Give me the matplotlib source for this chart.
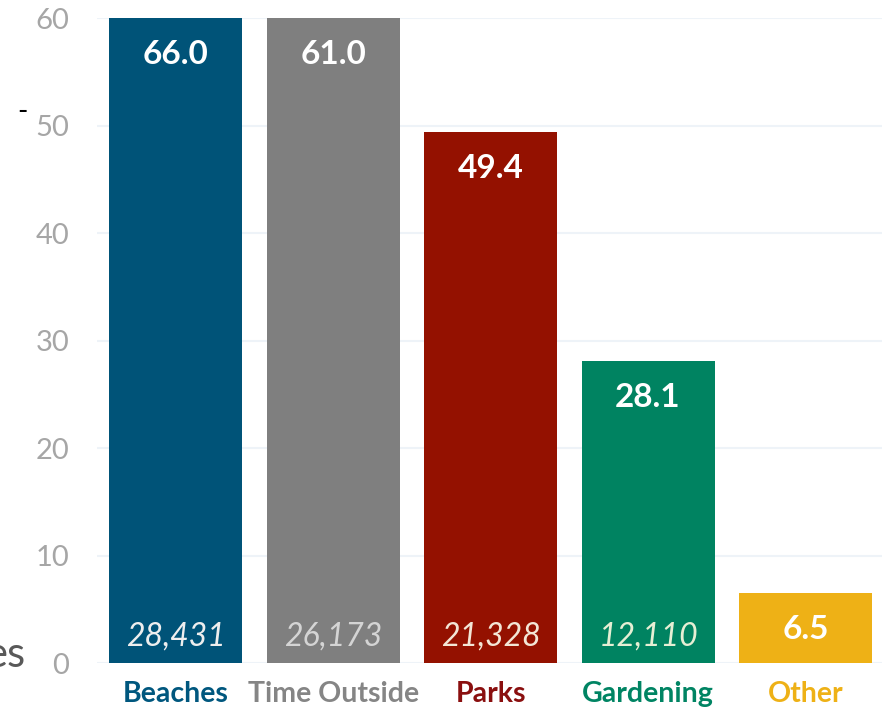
import matplotlib
matplotlib.use('Agg')
import matplotlib.pyplot as plt

# data
categories = ['Beaches', 'Time Outside', 'Parks', 'Gardening', 'Other']
values = [66.0, 61.0, 49.4, 28.1, 6.5]
counts = ['28,431', '26,173', '21,328', '12,110', '']
bar_colors = ['#005378', '#7f7f7f', '#941100', '#008361', '#EEB116']
label_colors = ['#00577e', '#858585', '#8a0f0f', '#008463', '#EEB116']
count_colors = ['#eeeeee', '#d4d4d4', '#f3e6d6', '#e6efd4', '#ffffff']
yticks = [0, 10, 20, 30, 40, 50, 60]

plt.rcParams['font.family'] = ['Lato', 'DejaVu Sans']

fig = plt.figure(figsize=(8.82, 7.11), dpi=100)
ax = fig.add_axes([0.110, 0.0675, 0.890, 0.907])

x = list(range(len(categories)))
ax.bar(x, values, width=0.845, color=bar_colors, zorder=2)

ax.set_ylim(0, 60)
ax.set_xlim(-0.5, 4.486)
ax.set_yticks(yticks)
ax.set_yticklabels([str(t) for t in yticks], fontsize=21, color='#a6a6a6')
ax.set_xticks(x)
ax.set_xticklabels(categories, fontsize=20.5, fontweight='bold')
for lbl, c in zip(ax.get_xticklabels(), label_colors):
    lbl.set_color(c)
ax.tick_params(axis='y', length=0, pad=20)
ax.tick_params(axis='x', length=0, pad=13)
ax.grid(axis='y', color='#eef3f8', lw=1.5, zorder=0)
for s in ax.spines.values():
    s.set_visible(False)

ymax = ax.get_ylim()[1]
for i, (v, n) in enumerate(zip(values, counts)):
    top = min(v, ymax)
    ax.annotate(f'{v:.1f}', (i, top), xytext=(0, -26), textcoords='offset points',
                ha='center', va='center', fontsize=24, fontweight='bold', color='white')
    if n:
        ax.annotate(n, (i, 0), xytext=(0, 19), textcoords='offset points',
                    ha='center', va='center', fontsize=23, fontstyle='italic',
                    color=count_colors[i])

# leftovers of a cut-off axis title
fig.text(0.029, 0.079, 'es', ha='right', va='center', fontsize=30, color='#595959')
fig.text(0.025, 0.843, '-', ha='center', va='center', fontsize=20, color='black')

fig.savefig('out.png', dpi=100)
